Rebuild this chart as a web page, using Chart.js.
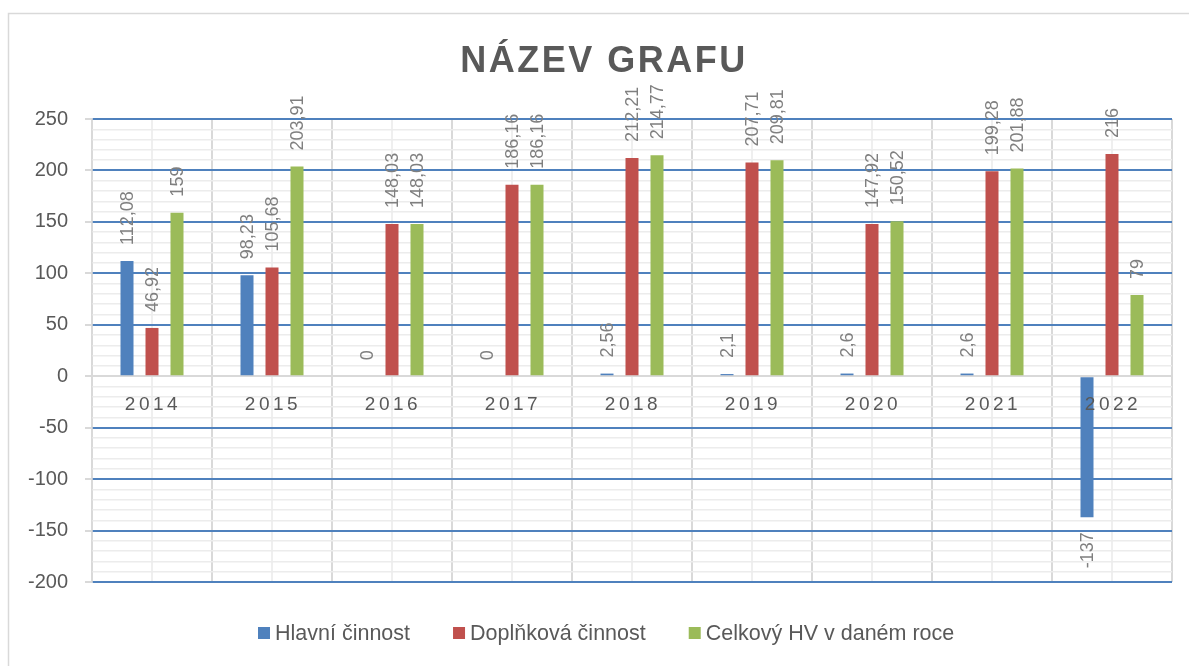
<!DOCTYPE html>
<html lang="cs">
<head>
<meta charset="utf-8">
<title>Název grafu</title>
<script src="https://cdn.jsdelivr.net/npm/chart.js@4.4.1/dist/chart.umd.min.js"></script>
<style>
	body { margin: 0; background: #fff; }
	.chart-box { position: relative; width: 1189px; height: 666px; }
</style>
</head>
<body>
<div class="chart-box"><canvas id="mainChart"></canvas></div>
<script>
// data
const years = ['2014', '2015', '2016', '2017', '2018', '2019', '2020', '2021', '2022'];
const hlavniCinnost = [112.08, 98.23, 0, 0, 2.56, 2.1, 2.6, 2.6, -137];
const doplnkovaCinnost = [46.92, 105.68, 148.03, 186.16, 212.21, 207.71, 147.92, 199.28, 216];
const celkovyHV = [159, 203.91, 148.03, 186.16, 214.77, 209.81, 150.52, 201.88, 79];
const yTicks = [-200, -150, -100, -50, 0, 50, 100, 150, 200, 250];
const yMinorStep = 10;

const FONT = '"Liberation Sans", Arial, sans-serif';
const TEXT = '#595959';

// frame + title
const titlePlugin = {
	id: 'titlePlugin',
	beforeDraw(chart) {
		const { ctx } = chart;
		ctx.save();
		ctx.strokeStyle = '#d9d9d9';
		ctx.lineWidth = 1.5;
		ctx.strokeRect(8.5, 13.5, 1300, 800);
		ctx.restore();
	},
	afterDraw(chart) {
		const { ctx } = chart;
		ctx.save();
		ctx.font = 'bold 36px ' + FONT;
		ctx.fillStyle = TEXT;
		ctx.textAlign = 'center';
		ctx.textBaseline = 'middle';
		ctx.letterSpacing = '2.5px';
		ctx.fillText('NÁZEV GRAFU', 604, 62);
		ctx.restore();
	}
};

// rotated value labels above / below bars
const barLabels = {
	id: 'barLabels',
	afterDatasetsDraw(chart) {
		const { ctx } = chart;
		ctx.save();
		ctx.font = '18px ' + FONT;
		ctx.fillStyle = '#7f7f7f';
		ctx.textBaseline = 'middle';
		chart.data.datasets.forEach((ds, i) => {
			chart.getDatasetMeta(i).data.forEach((bar, j) => {
				const v = ds.data[j];
				const text = String(v).replace('.', ',');
				ctx.save();
				ctx.translate(bar.x + 1, v < 0 ? bar.y + 15 : bar.y - 16);
				ctx.rotate(-Math.PI / 2);
				ctx.textAlign = v < 0 ? 'right' : 'left';
				ctx.fillText(text, 0, 0);
				ctx.restore();
			});
		});
		ctx.restore();
	}
};

// category labels sitting on the zero line
const categoryLabels = {
	id: 'categoryLabels',
	afterDatasetsDraw(chart) {
		const { ctx } = chart;
		const x = chart.scales.x;
		const y0 = chart.scales.y.getPixelForValue(0);
		ctx.save();
		ctx.font = '19px ' + FONT;
		ctx.fillStyle = TEXT;
		ctx.textAlign = 'center';
		ctx.textBaseline = 'middle';
		ctx.letterSpacing = '3.5px';
		chart.data.labels.forEach((label, j) => {
			ctx.fillText(label, x.getPixelForValue(j) + 1, y0 + 29);
		});
		ctx.restore();
	}
};

// legend at the bottom
const bottomLegend = {
	id: 'bottomLegend',
	afterDraw(chart) {
		const { ctx } = chart;
		ctx.save();
		ctx.font = '21.5px ' + FONT;
		ctx.textBaseline = 'middle';
		ctx.textAlign = 'left';
		let x = 258;
		const y = 633;
		chart.data.datasets.forEach(ds => {
			ctx.fillStyle = ds.backgroundColor;
			ctx.fillRect(x, y - 6, 12, 12);
			ctx.fillStyle = TEXT;
			ctx.fillText(ds.label, x + 17, y + 1);
			x += 17 + ctx.measureText(ds.label).width + 43;
		});
		ctx.restore();
	}
};

document.addEventListener('DOMContentLoaded', () => {
	initChart();
});

function initChart() {
	const ctx = document.getElementById('mainChart');

	if (!ctx) return;

	Chart.defaults.font.family = FONT;

	new Chart(ctx, {
		type: 'bar',
		data: {
			labels: years,
			datasets: [
				{ label: 'Hlavní činnost', data: hlavniCinnost, backgroundColor: '#4f81bd' },
				{ label: 'Doplňková činnost', data: doplnkovaCinnost, backgroundColor: '#c0504d' },
				{ label: 'Celkový HV v daném roce', data: celkovyHV, backgroundColor: '#9bbb59' }
			]
		},
		options: {
			responsive: true,
			maintainAspectRatio: false,
			animation: false,
			categoryPercentage: 0.625,
			barPercentage: 0.52,
			layout: {
				padding: { top: 119, bottom: 84, right: 17, left: 0 }
			},
			plugins: {
				legend: { display: false },
				title: { display: false },
				tooltip: { enabled: false }
			},
			scales: {
				x: {
					offset: true,
					grid: { offset: true, color: '#d9d9d9', lineWidth: 2, drawTicks: false },
					border: { display: false },
					ticks: { display: false },
					afterFit: scale => { scale.height = 0; }
				},
				xc: {
					type: 'category',
					position: 'bottom',
					offset: true,
					z: -1,
					grid: { offset: false, color: '#efefef', lineWidth: 2, drawTicks: false },
					border: { display: false },
					ticks: { display: false },
					afterFit: scale => { scale.height = 0; }
				},
				y: {
					min: yTicks[0],
					max: yTicks[yTicks.length - 1],
					afterBuildTicks: scale => {
						scale.ticks = yTicks.map(v => ({ value: v }));
					},
					grid: {
						color: c => (c.tick && c.tick.value === 0 ? '#d9d9d9' : '#4f81bd'),
						lineWidth: 2,
						tickColor: '#d9d9d9',
						tickLength: 7
					},
					border: { color: '#d9d9d9', width: 1.5 },
					ticks: {
						color: TEXT,
						font: { size: 20 },
						padding: 17
					},
					afterFit: scale => { scale.width = 92; }
				},
				ym: {
					position: 'left',
					min: yTicks[0],
					max: yTicks[yTicks.length - 1],
					z: -1,
					ticks: { display: false, stepSize: yMinorStep },
					grid: {
						color: c => (c.tick && c.tick.value % 50 === 0 ? 'rgba(0,0,0,0)' : '#ececec'),
						lineWidth: 1.5,
						drawTicks: false
					},
					border: { display: false },
					afterFit: scale => { scale.width = 0; }
				}
			}
		},
		plugins: [titlePlugin, barLabels, categoryLabels, bottomLegend]
	});
}
</script>
</body>
</html>
